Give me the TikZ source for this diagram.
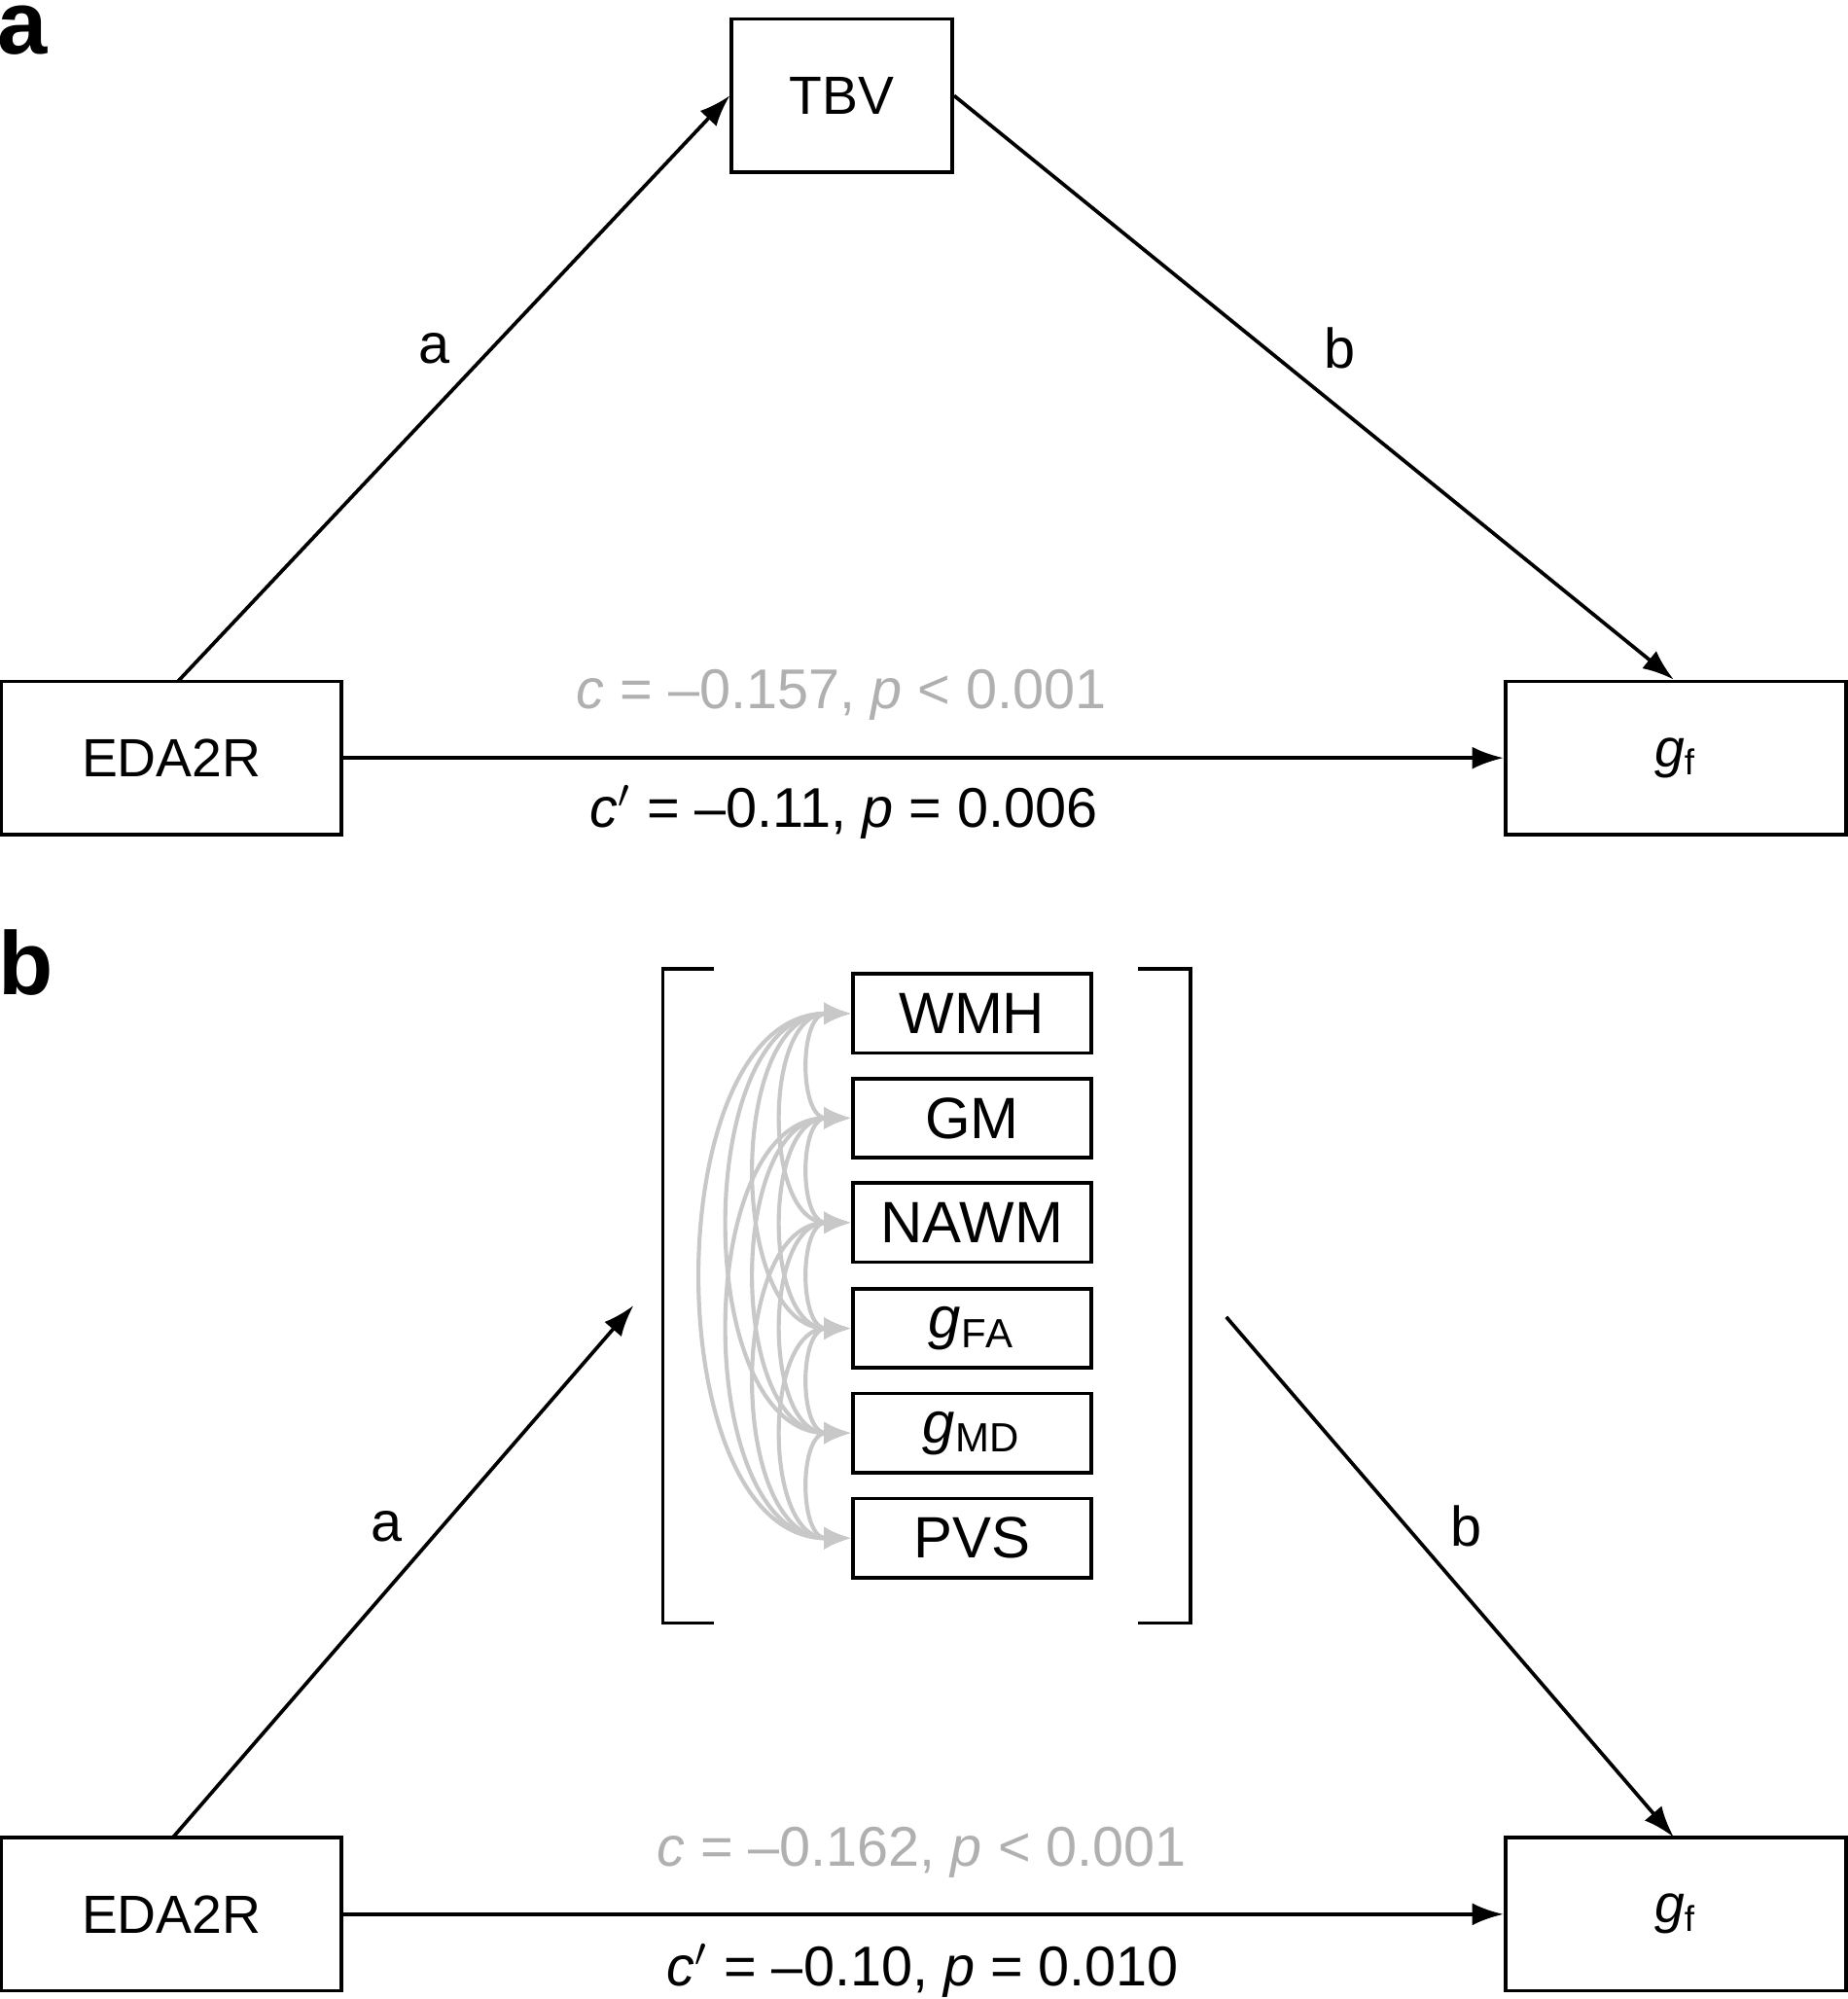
\documentclass[tikz,border=0pt]{standalone}
\usepackage{fontspec}
\setmainfont{Liberation Sans}
\usetikzlibrary{arrows.meta}
\begin{document}
\begin{tikzpicture}[x=0.01cm,y=-0.01cm,
  box/.style={draw,line width=0.8pt,minimum width=2.67cm,minimum height=1.2cm,font=\fontsize{12}{14}\selectfont},
  vbox/.style={draw,line width=0.8pt,minimum width=1.87cm,minimum height=0.62cm,font=\fontsize{13}{15}\selectfont},
  arr/.style={line width=0.8pt,-{Latex[length=7pt,width=5pt]}},
  lab/.style={font=\fontsize{12.5}{15}\selectfont},
  glab/.style={font=\fontsize{12.5}{15}\selectfont,text=gtxt},
  garr/.style={gcur,line width=0.9pt,{Latex[length=6pt,width=5pt]}-{Latex[length=6pt,width=5pt]}}]
\definecolor{gtxt}{HTML}{B0B0B0}
\definecolor{gcur}{HTML}{C8C8C8}
\useasboundingbox (0,0) rectangle (1449,1568);
% panel a
\node[font=\fontsize{20}{22}\bfseries\selectfont] (la) at (18,24) {a};
\node[box,minimum width=1.73cm] (tbv) at (660.5,75) {TBV};
\node[box] (eda) at (134.5,594.5) {EDA2R};
\node[box] (gf) at (1314.5,594.5) {$\mathit{g}_{\mathrm{f}}$};
\coordinate (a1) at (140,534);
\coordinate (b1) at (1313,533);
\draw[arr] (a1) -- (tbv.west);
\draw[arr] (tbv.east) -- (b1);
\draw[arr] (eda.east) -- (gf.west);
\node[lab] (ta) at (341,273) {a};
\node[lab] (tb) at (1051,273) {b};
\node[glab] (c1) at (660,545) {\textit{c} = –0.157, \textit{p} {<} 0.001};
\node[lab] (cp1) at (662,637) {\textit{c}$'$ = –0.11, \textit{p} = 0.006};
% panel b
\node[font=\fontsize{20}{22}\bfseries\selectfont] (lb) at (20,755) {b};
\node[vbox] (v1) at (762.5,795) {WMH};
\node[vbox] (v2) at (762.5,877) {GM};
\node[vbox] (v3) at (762.5,959) {NAWM};
\node[vbox] (v4) at (762.5,1042) {$\mathit{g}_{\mathrm{FA}}$};
\node[vbox] (v5) at (762.5,1124) {$\mathit{g}_{\mathrm{MD}}$};
\node[vbox] (v6) at (762.5,1206.5) {PVS};
\foreach \i in {1,...,6}{\foreach \j in {1,...,6}{
  \ifnum\i<\j
    \pgfmathsetmacro{\bul}{(\j-\i)*28+13}
    \draw[garr] (v\i.west) .. controls +(-\bul,0) and +(-\bul,0) .. (v\j.west);
  \fi}}
\draw[line width=0.8pt] (560,760) -- (520,760) -- (520,1273) -- (560,1273);
\draw[line width=0.8pt] (893,760) -- (934,760) -- (934,1273) -- (893,1273);
\node[box] (eda2) at (134.5,1501.5) {EDA2R};
\node[box] (gf2) at (1314.5,1501.5) {$\mathit{g}_{\mathrm{f}}$};
\coordinate (a2s) at (135,1442);
\coordinate (a2e) at (497,1024);
\coordinate (b2s) at (962,1033);
\coordinate (b2e) at (1313,1441);
\draw[arr] (a2s) -- (a2e);
\draw[arr] (b2s) -- (b2e);
\draw[arr] (eda2.east) -- (gf2.west);
\node[lab] (ta2) at (303,1197) {a};
\node[lab] (tb2) at (1150,1197) {b};
\node[glab] (c2) at (723,1453) {\textit{c} = –0.162, \textit{p} {<} 0.001};
\node[lab] (cp2) at (724,1546) {\textit{c}$'$ = –0.10, \textit{p} = 0.010};
\end{tikzpicture}
\end{document}
